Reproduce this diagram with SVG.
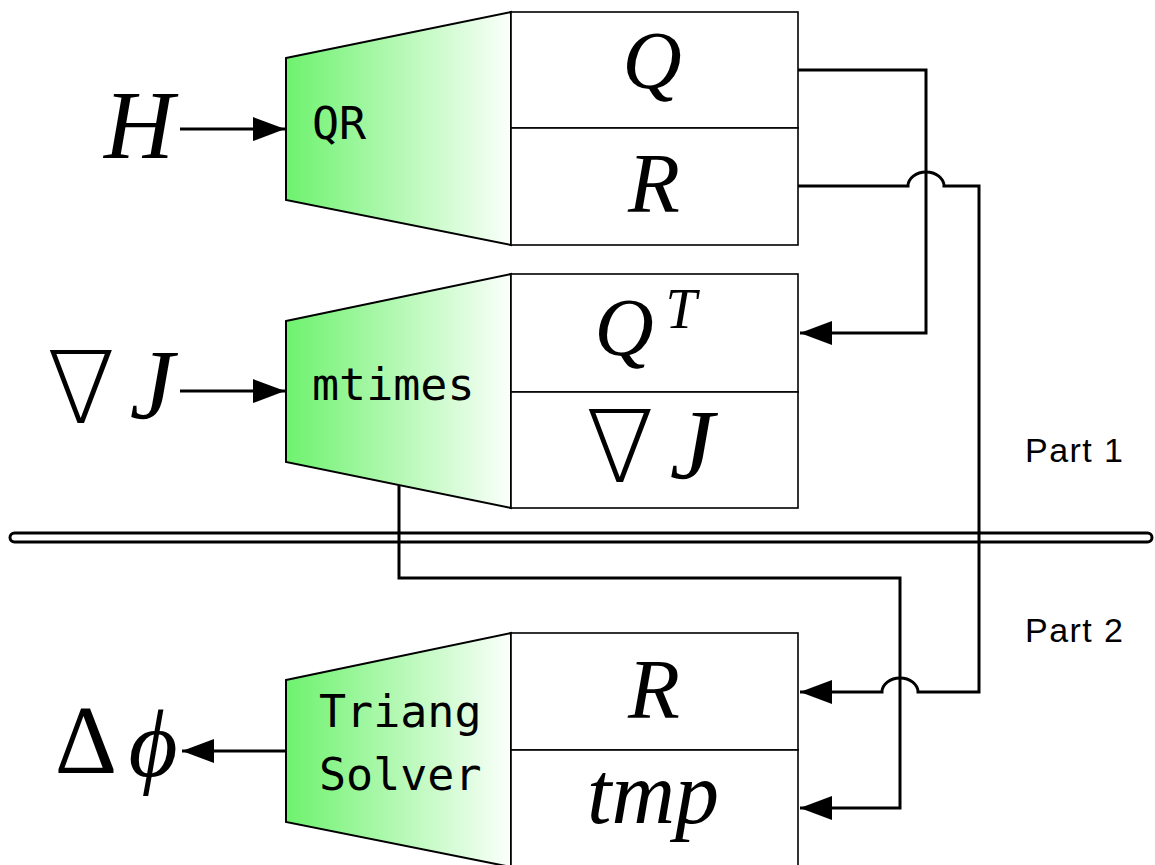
<svg xmlns="http://www.w3.org/2000/svg" width="1155" height="865" viewBox="0 0 1155 865">
<style>
.trap{stroke:#000;stroke-width:2;fill:url(#grn)}
.cell{fill:#fff;stroke:#000;stroke-width:1.6}
.mono{font-family:"DejaVu Sans Mono",monospace;font-size:45px;fill:#000}
.math{font-family:"Liberation Serif","DejaVu Serif",serif;font-style:italic;fill:#000}
.up{font-family:"Liberation Serif","DejaVu Sans",serif;font-weight:200;fill:#000}
.part{font-family:"Liberation Sans",Arial,sans-serif;font-size:34px;fill:#000}
.wire{fill:none;stroke:#000;stroke-width:3}
</style>
<defs>
<linearGradient id="grn" x1="0" y1="0" x2="1" y2="0">
<stop offset="0" stop-color="#6ef26e"/>
<stop offset="1" stop-color="#fbfffb"/>
</linearGradient>
<marker id="ah" markerUnits="userSpaceOnUse" markerWidth="34" markerHeight="26" refX="32" refY="12" orient="auto">
<path d="M0,0 L32,12 L0,24 z" fill="#000"/>
</marker>
</defs>
<rect x="10" y="533" width="1142" height="9" rx="4.5" fill="#fff" stroke="#000" stroke-width="3"/>
<g id="qr">
<polygon class="trap" points="286,58 511,12 511,245 286,200"/>
<rect class="cell" x="511" y="12" width="287" height="116"/>
<rect class="cell" x="511" y="128" width="287" height="117"/>
<text class="mono" x="312" y="139">QR</text>
<text class="math" x="652" y="88" font-size="82" text-anchor="middle">Q</text>
<text class="math" x="654" y="212" font-size="85" text-anchor="middle">R</text>
</g>
<g id="mtimes">
<polygon class="trap" points="286,321 511,274 511,508 286,462"/>
<rect class="cell" x="511" y="274" width="287" height="118"/>
<rect class="cell" x="511" y="392" width="287" height="116"/>
<text class="mono" x="312" y="400">mtimes</text>
<text class="math" x="624" y="355" font-size="82" text-anchor="middle">Q</text>
<text class="math" x="681" y="328" font-size="56" text-anchor="middle">T</text>
<text class="up" x="620" y="482" font-size="100" text-anchor="middle">∇</text>
<text class="math" x="692" y="478" font-size="100" text-anchor="middle">J</text>
</g>
<g id="triang">
<polygon class="trap" points="286,680 511,633 511,867 286,822"/>
<rect class="cell" x="511" y="633" width="287" height="117"/>
<rect class="cell" x="511" y="750" width="287" height="117"/>
<text class="mono" x="319" y="727">Triang</text>
<text class="mono" x="319" y="790">Solver</text>
<text class="math" x="654" y="718" font-size="85" text-anchor="middle">R</text>
<text class="math" x="653" y="823" font-size="88" text-anchor="middle">tmp</text>
</g>
<g id="inputs">
<text class="math" x="139" y="158" font-size="97" text-anchor="middle">H</text>
<text class="up" x="81" y="423" font-size="100" text-anchor="middle">∇</text>
<text class="math" x="152" y="418" font-size="100" text-anchor="middle">J</text>
<text class="up" x="86" y="773" font-size="97" text-anchor="middle">Δ</text>
<text class="math" x="153" y="776" font-size="95" text-anchor="middle">ϕ</text>
</g>
<g id="parts">
<text class="part" x="1025" y="462" textLength="98" lengthAdjust="spacing">Part 1</text>
<text class="part" x="1025" y="642" textLength="98" lengthAdjust="spacing">Part 2</text>
</g>
<g id="connectors">
<path class="wire" d="M180,129 H285" marker-end="url(#ah)"/>
<path class="wire" d="M180,391 H285" marker-end="url(#ah)"/>
<path class="wire" d="M286,751 H182" marker-end="url(#ah)"/>
<path class="wire" d="M798,70 H926 V333 H800" marker-end="url(#ah)"/>
<path class="wire" d="M798,186 H908 A18,14 0 0 1 944,186 H979 V692 H918 A18,14 0 0 0 882,692 H800" marker-end="url(#ah)"/>
<path class="wire" d="M399,485 V578 H900 V808 H800" marker-end="url(#ah)"/>
</g>
</svg>
